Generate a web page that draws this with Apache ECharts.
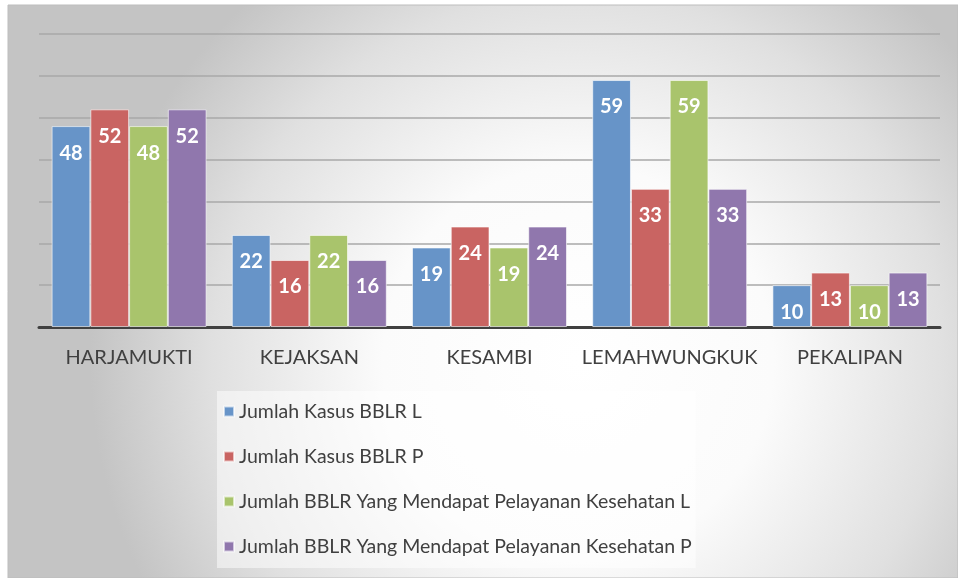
<!DOCTYPE html>
<html><head><meta charset="utf-8">
<script src="https://cdn.jsdelivr.net/npm/echarts@6/dist/echarts.min.js"></script>
<style>html,body{margin:0;padding:0;background:#fff}#c{width:958px;height:578px}</style>
</head><body><div id="c"></div>
<script>
const categories = ['HARJAMUKTI', 'KEJAKSAN', 'KESAMBI', 'LEMAHWUNGKUK', 'PEKALIPAN'];
const seriesNames = [
  'Jumlah Kasus BBLR L',
  'Jumlah Kasus BBLR P',
  'Jumlah BBLR Yang Mendapat Pelayanan Kesehatan L',
  'Jumlah BBLR Yang Mendapat Pelayanan Kesehatan P'
];
const kasusL = [48, 22, 19, 59, 10];
const kasusP = [52, 16, 24, 33, 13];
const pelayananL = [48, 22, 19, 59, 10];
const pelayananP = [52, 16, 24, 33, 13];
const colors = ['#6794c8', '#c96462', '#a9c46c', '#9077ad'];

const chart = echarts.init(document.getElementById('c'));
const FONT = 'Lato';
const allData = [kasusL, kasusP, pelayananL, pelayananP];
chart.setOption({
  animation: false,
  backgroundColor: '#ffffff',
  color: colors,
  graphic: [
    {
      type: 'rect', z: -10, silent: true,
      shape: { x: 8, y: 5, width: 950, height: 573 },
      style: {
        fill: new echarts.graphic.RadialGradient(0.6, 0.62, 0.85, [
          { offset: 0, color: '#ffffff' },
          { offset: 0.4, color: '#fbfbfb' },
          { offset: 0.75, color: '#e0e0e0' },
          { offset: 1, color: '#c4c4c4' }
        ]),
        stroke: '#bdbdbd', lineWidth: 1
      }
    }
  ],
  grid: { left: 39, right: 18, top: 34, bottom: 251 },
  legend: {
    orient: 'vertical',
    left: 217, top: 391,
    padding: [9, 4, 10, 6],
    backgroundColor: 'rgba(255,255,255,0.5)',
    icon: 'rect', itemWidth: 10, itemHeight: 10,
    itemGap: 22,
    data: seriesNames,
    textStyle: { fontFamily: FONT, fontSize: 19.5, color: '#404040', lineHeight: 23 }
  },
  xAxis: {
    type: 'category', data: categories,
    axisLine: { lineStyle: { color: '#404040', width: 3 } },
    axisTick: { show: false },
    axisLabel: { interval: 0, fontFamily: FONT, fontSize: 20, color: '#404040', margin: 21 }
  },
  yAxis: {
    type: 'value', min: 0, max: 70, interval: 10,
    axisLine: { show: false }, axisTick: { show: false },
    axisLabel: { show: false },
    splitLine: { lineStyle: { color: '#a8a8a8', width: 1.5 } }
  },
  series: seriesNames.map((n, i) => ({
    name: n, type: 'bar', data: allData[i],
    barGap: '0%', barCategoryGap: '14%',
    itemStyle: { color: colors[i], borderColor: 'rgba(255,255,255,0.6)', borderWidth: 1 },
    label: {
      show: true, position: 'insideTop', distance: 17,
      color: '#ffffff', fontFamily: FONT, fontWeight: 'bold', fontSize: 20
    }
  }))
});
</script></body></html>
